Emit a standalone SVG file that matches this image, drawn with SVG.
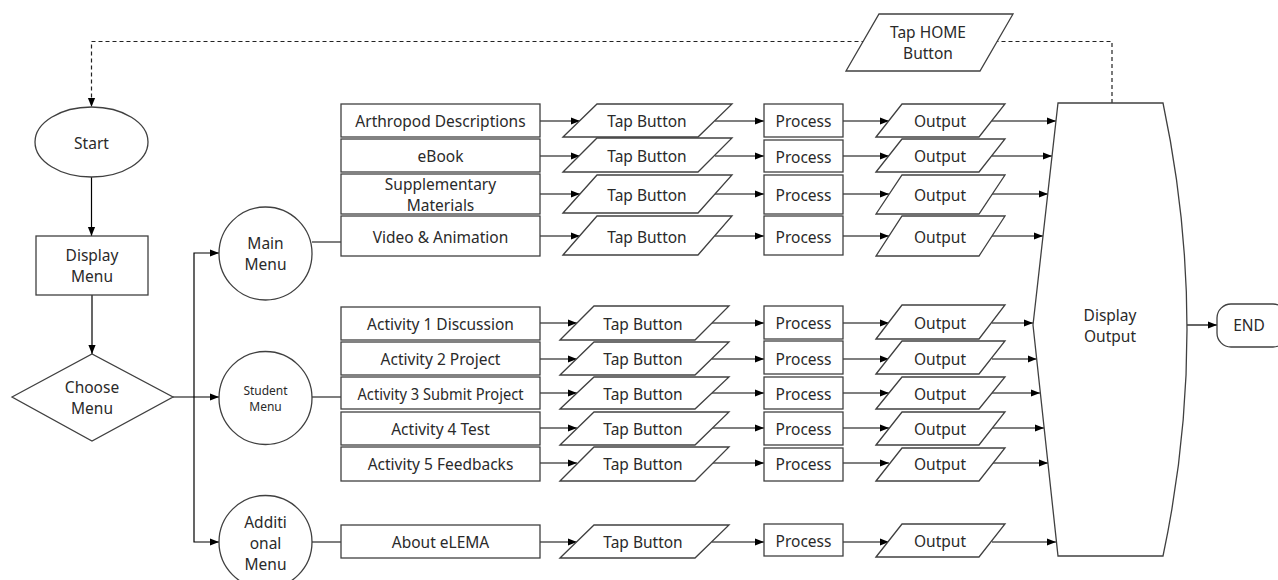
<svg xmlns="http://www.w3.org/2000/svg" width="1278" height="580" viewBox="0 0 1278 580">
<defs>
<marker id="ah" viewBox="0 0 10 10" refX="10" refY="5" markerWidth="9" markerHeight="9" markerUnits="userSpaceOnUse" orient="auto"><path d="M0,1 L10,5 L0,9 z" fill="#000"/></marker>
<style>
.s{fill:#fff;stroke:#404040;stroke-width:1.3}
.c{fill:none;stroke:#000;stroke-width:1.2;marker-end:url(#ah)}
.d{fill:none;stroke:#222;stroke-width:1.2;stroke-dasharray:4 3}
text{font-family:"Noto Sans","DejaVu Sans",sans-serif;font-size:15.5px;fill:#2a2a2a;text-anchor:middle;dominant-baseline:central}
.sm{font-size:12px}
.lg{font-size:15.5px}
</style>
</defs>
<rect width="1278" height="580" fill="#fff"/>

<g id="connectors">
<path class="d" d="M1112,103 V41.5 H91.5 V107" style="marker-end:url(#ah)"/>
<path class="c" d="M91.5,177 V236"/>
<path class="c" d="M92,295 V354"/>
<path class="c" d="M173,397 H219"/>
<path class="c" d="M194,397 V253 H219"/>
<path class="c" d="M194,397 V542 H219"/>
<path fill="none" stroke="#000" stroke-width="1.2" d="M312,242 H341 M312,397 H341 M312,542 H341"/>
<path class="c" d="M540,121 H580"/><path class="c" d="M715,121 H764"/><path class="c" d="M843,121 H889"/><path class="c" d="M992,121 H1056"/>
<path class="c" d="M540,156 H580"/><path class="c" d="M715,156 H764"/><path class="c" d="M843,156 H889"/><path class="c" d="M992,156 H1052"/>
<path class="c" d="M540,194 H580"/><path class="c" d="M715,194 H764"/><path class="c" d="M843,194 H889"/><path class="c" d="M992,194 H1048"/>
<path class="c" d="M540,236 H580"/><path class="c" d="M715,236 H764"/><path class="c" d="M843,236 H889"/><path class="c" d="M992,236 H1043"/>
<path class="c" d="M540,323 H577"/><path class="c" d="M712,323 H764"/><path class="c" d="M843,323 H889"/><path class="c" d="M992,323 H1033"/>
<path class="c" d="M540,359 H577"/><path class="c" d="M712,359 H764"/><path class="c" d="M843,359 H889"/><path class="c" d="M992,359 H1036.5"/>
<path class="c" d="M540,393 H577"/><path class="c" d="M712,393 H764"/><path class="c" d="M843,393 H889"/><path class="c" d="M992,393 H1040"/>
<path class="c" d="M540,428 H577"/><path class="c" d="M712,428 H764"/><path class="c" d="M843,428 H889"/><path class="c" d="M992,428 H1044"/>
<path class="c" d="M540,463 H577"/><path class="c" d="M712,463 H764"/><path class="c" d="M843,463 H889"/><path class="c" d="M992,463 H1048"/>
<path class="c" d="M540,542 H577"/><path class="c" d="M712,542 H764"/><path class="c" d="M843,542 H889"/><path class="c" d="M992,542 H1056"/>
<path class="c" d="M1187,325 H1217"/>
</g>

<g id="tap-home"><polygon class="s" points="846,71 879,14 1013,14 980,71"/><text x="928" y="32">Tap HOME</text><text x="928" y="53">Button</text></g>

<g id="start"><ellipse class="s" cx="91.5" cy="142" rx="56.5" ry="35"/><text class="lg" x="91.5" y="143">Start</text></g>
<g id="display-menu"><rect class="s" x="36" y="236" width="112" height="59"/><text class="lg" x="92" y="255">Display</text><text class="lg" x="92" y="276">Menu</text></g>
<g id="choose-menu"><polygon class="s" points="12,397 92,354 173,397 92,441"/><text class="lg" x="92" y="387">Choose</text><text class="lg" x="92" y="408">Menu</text></g>

<g id="main-menu"><circle class="s" cx="265.5" cy="253.5" r="46.5"/><text class="lg" x="265.5" y="243">Main</text><text class="lg" x="265.5" y="264">Menu</text></g>
<g id="student-menu"><circle class="s" cx="265.5" cy="398" r="46.5"/><text class="sm" x="265.5" y="390">Student</text><text class="sm" x="265.5" y="406">Menu</text></g>
<g id="additional-menu"><circle class="s" cx="265.5" cy="542" r="46.5"/><text class="lg" x="265.5" y="522">Additi</text><text class="lg" x="265.5" y="543">onal</text><text class="lg" x="265.5" y="564">Menu</text></g>

<g id="m1"><rect class="s" x="341" y="104" width="199" height="33"/><text x="440.5" y="121">Arthropod Descriptions</text></g>
<g id="m2"><rect class="s" x="341" y="139" width="199" height="33"/><text x="440.5" y="156">eBook</text></g>
<g id="m3"><rect class="s" x="341" y="174" width="199" height="40"/><text x="440.5" y="184">Supplementary</text><text x="440.5" y="205">Materials</text></g>
<g id="m4"><rect class="s" x="341" y="216" width="199" height="40"/><text x="440.5" y="237">Video &amp; Animation</text></g>

<g id="s1"><rect class="s" x="341" y="307" width="199" height="33"/><text x="440.5" y="324">Activity 1 Discussion</text></g>
<g id="s2"><rect class="s" x="341" y="342" width="199" height="33"/><text x="440.5" y="359">Activity 2 Project</text></g>
<g id="s3"><rect class="s" x="341" y="377" width="199" height="32"/><text x="440.5" y="394" textLength="166" lengthAdjust="spacingAndGlyphs">Activity 3 Submit Project</text></g>
<g id="s4"><rect class="s" x="341" y="412" width="199" height="33"/><text x="440.5" y="429">Activity 4 Test</text></g>
<g id="s5"><rect class="s" x="341" y="447" width="199" height="34"/><text x="440.5" y="464">Activity 5 Feedbacks</text></g>

<g id="a1"><rect class="s" x="341" y="525" width="199" height="33"/><text x="440.5" y="542">About eLEMA</text></g>

<g id="tap-m1"><polygon class="s" points="563,137 597,104 732,104 698,137"/><text x="647" y="121">Tap Button</text></g>
<g id="tap-m2"><polygon class="s" points="563,172 597,138 732,138 698,172"/><text x="647" y="156">Tap Button</text></g>
<g id="tap-m3"><polygon class="s" points="563,213 597,175 732,175 698,213"/><text x="647" y="195">Tap Button</text></g>
<g id="tap-m4"><polygon class="s" points="563,255 597,216 732,216 698,255"/><text x="647" y="237">Tap Button</text></g>
<g id="tap-s1"><polygon class="s" points="560,340 594,306 729,306 695,340"/><text x="643" y="324">Tap Button</text></g>
<g id="tap-s2"><polygon class="s" points="560,375 594,342 729,342 695,375"/><text x="643" y="359">Tap Button</text></g>
<g id="tap-s3"><polygon class="s" points="560,409 594,377 729,377 695,409"/><text x="643" y="394">Tap Button</text></g>
<g id="tap-s4"><polygon class="s" points="560,445 594,412 729,412 695,445"/><text x="643" y="429">Tap Button</text></g>
<g id="tap-s5"><polygon class="s" points="560,481 594,447 729,447 695,481"/><text x="643" y="464">Tap Button</text></g>
<g id="tap-a1"><polygon class="s" points="560,558 594,525 729,525 695,558"/><text x="643" y="542">Tap Button</text></g>

<g id="proc-m1"><rect class="s" x="764" y="104" width="79" height="33"/><text x="803.5" y="121">Process</text></g>
<g id="proc-m2"><rect class="s" x="764" y="140" width="79" height="32"/><text x="803.5" y="157">Process</text></g>
<g id="proc-m3"><rect class="s" x="764" y="175" width="79" height="39"/><text x="803.5" y="195">Process</text></g>
<g id="proc-m4"><rect class="s" x="764" y="216" width="79" height="39"/><text x="803.5" y="237">Process</text></g>
<g id="proc-s1"><rect class="s" x="764" y="306" width="79" height="33"/><text x="803.5" y="323">Process</text></g>
<g id="proc-s2"><rect class="s" x="764" y="341" width="79" height="33"/><text x="803.5" y="359">Process</text></g>
<g id="proc-s3"><rect class="s" x="764" y="377" width="79" height="32"/><text x="803.5" y="394">Process</text></g>
<g id="proc-s4"><rect class="s" x="764" y="412" width="79" height="33"/><text x="803.5" y="429">Process</text></g>
<g id="proc-s5"><rect class="s" x="764" y="448" width="79" height="33"/><text x="803.5" y="464">Process</text></g>
<g id="proc-a1"><rect class="s" x="764" y="524" width="79" height="32"/><text x="803.5" y="541">Process</text></g>

<g id="out-m1"><polygon class="s" points="876,137 902,104 1005,104 979,137"/><text x="940" y="121">Output</text></g>
<g id="out-m2"><polygon class="s" points="876,172 902,139 1005,139 979,172"/><text x="940" y="156">Output</text></g>
<g id="out-m3"><polygon class="s" points="876,214 902,175 1005,175 979,214"/><text x="940" y="195">Output</text></g>
<g id="out-m4"><polygon class="s" points="876,256 902,216 1005,216 979,256"/><text x="940" y="237">Output</text></g>
<g id="out-s1"><polygon class="s" points="876,339 902,305 1005,305 979,339"/><text x="940" y="323">Output</text></g>
<g id="out-s2"><polygon class="s" points="876,374 902,341 1005,341 979,374"/><text x="940" y="359">Output</text></g>
<g id="out-s3"><polygon class="s" points="876,409 902,377 1005,377 979,409"/><text x="940" y="394">Output</text></g>
<g id="out-s4"><polygon class="s" points="876,445 902,412 1005,412 979,445"/><text x="940" y="429">Output</text></g>
<g id="out-s5"><polygon class="s" points="876,481 902,448 1005,448 979,481"/><text x="940" y="464">Output</text></g>
<g id="out-a1"><polygon class="s" points="876,557 902,524 1005,524 979,557"/><text x="940" y="541">Output</text></g>

<g id="display-output"><path class="s" d="M1058,103 L1163,103 Q1211,329.5 1163,556 L1058,556 L1033,325 Z"/><text x="1110" y="315">Display</text><text x="1110" y="336">Output</text></g>
<g id="end"><rect class="s" x="1217" y="304" width="70" height="43" rx="14"/><text x="1249" y="325">END</text></g>
</svg>
